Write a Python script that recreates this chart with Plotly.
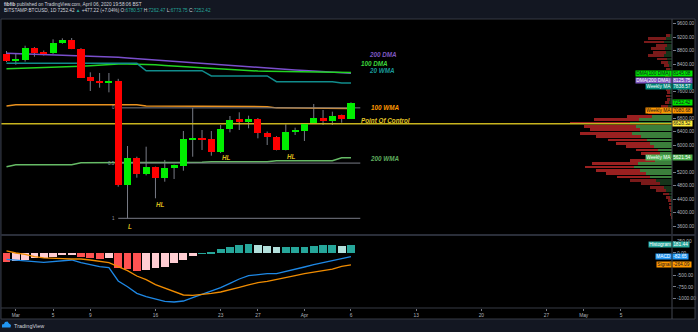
import plotly.graph_objects as go
import pandas as pd

W, H = 698, 332
def fx(x): return x / W
def fy(y): return 1 - y / H

FONT = "Liberation Sans, Arial, sans-serif"

# ---------------- data ----------------
dates = pd.date_range("2020-02-29", "2020-04-06", freq="D")
date_str = [d.strftime("%Y-%m-%d") for d in dates]

opens  = [8687, 8489, 8510, 8883, 8740, 8717, 9031, 9120, 8853, 8010, 7905, 7860, 7910, 4815, 5615, 5141, 5348, 5033, 5329, 5388,
          6169, 6198, 6169, 5784, 6465, 6761, 6681, 6761, 6365, 6247, 5852, 6394, 6414, 6643, 6791, 6711, 6879, 6780.57]
highs  = [8785, 8726, 8942, 8900, 8800, 9132, 9161, 9170, 8870, 8154, 8133, 8133, 7960, 5970, 5653, 5950, 5360, 5556, 5420, 6415,
          7100, 6444, 6415, 6593, 6859, 6969, 6868, 6800, 6400, 6260, 6613, 6513, 6640, 7215, 7037, 6987, 6900, 7262.47]
lows   = [8459, 8379, 8470, 8616, 8650, 8700, 9000, 8840, 7990, 7600, 7698, 7561, 4764, 3828, 5031, 5100, 4421, 4913, 4993, 5238,
          5653, 5852, 5683, 5760, 6376, 6444, 6495, 6198, 6000, 5840, 5840, 6296, 6119, 6630, 6593, 6593, 6661, 6773.75]
closes = [8489, 8510, 8883, 8717, 8717, 9031, 9120, 8853, 7994, 7905, 7846, 7905, 4815, 5606, 5141, 5339, 5013, 5309, 5407, 6169,
          6198, 6169, 5784, 6465, 6741, 6681, 6760, 6365, 6228, 5852, 6394, 6414, 6622, 6791, 6711, 6859, 6775, 7252.42]

dma200 = [8717, 8708, 8699, 8690, 8681, 8672, 8663, 8654, 8645, 8636, 8626, 8616, 8598, 8578, 8558, 8538, 8518, 8498, 8478, 8458,
          8438, 8418, 8398, 8378, 8352, 8326, 8310, 8293, 8276, 8259, 8242, 8225, 8208, 8191, 8174, 8158, 8141, 8125.75]
dma100 = [8261, 8268, 8276, 8284, 8292, 8300, 8310, 8320, 8335, 8350, 8370, 8390, 8400, 8400, 8398, 8390, 8375, 8358, 8340, 8322,
          8304, 8286, 8268, 8250, 8230, 8210, 8200, 8193, 8186, 8180, 8174, 8168, 8163, 8158, 8154, 8150, 8147, 8145.08]
wma20  = [8421, 8421, 8421, 8421, 8421, 8421, 8421, 8421, 8421, 8421, 8421, 8421, 8421, 8421, 8421, 8201, 8201, 8201, 8201, 8201,
          8201, 8201, 8045, 8045, 8045, 8045, 8045, 8045, 8045, 7876, 7876, 7876, 7876, 7876, 7876, 7876, 7838.57, 7838.57]
wma100 = [7156, 7194, 7194, 7194, 7194, 7194, 7194, 7194, 7194, 7194, 7194, 7194, 7194, 7194, 7194, 7156, 7156, 7156, 7156, 7156,
          7156, 7156, 7135, 7135, 7135, 7135, 7135, 7135, 7135, 7100, 7100, 7100, 7100, 7100, 7100, 7100, 7080.68, 7080.68]
wma200 = [5357, 5416, 5416, 5416, 5416, 5416, 5416, 5416, 5475, 5475, 5475, 5475, 5475, 5475, 5475, 5490, 5490, 5490, 5490, 5490,
          5490, 5490, 5505, 5505, 5505, 5505, 5505, 5505, 5505, 5535, 5535, 5535, 5535, 5535, 5535, 5535, 5621.54, 5621.54]

poc = 6628.52
fib_top, fib_bottom = 7100, 3828
fib_ratios = [0, 0.5, 1]
fib_labels = ["0", "0.5", "1"]
fib_start, fib_end = "2020-03-12", "2020-04-07"

macd   = [-140, -162, -177, -192, -206, -184, -162, -155, -214, -265, -302, -324, -619, -745, -892, -966, -1018, -1069, -1084, -1062,
          -988, -914, -855, -767, -671, -575, -501, -472, -457, -457, -413, -361, -310, -258, -214, -177, -133, -82.65]
signal = [48, 0, -30, -82, -110, -110, -125, -133, -133, -155, -184, -214, -302, -391, -509, -590, -701, -781, -863, -929,
          -936, -919, -892, -863, -818, -759, -707, -656, -627, -590, -553, -503, -457, -428, -391, -357, -295, -264.09]
hist   = [-188, -162, -147, -110, -96, -74, -37, -22, -81, -110, -118, -110, -317, -354, -383, -376, -317, -288, -221, -133,
          -52, 5, 37, 96, 147, 184, 206, 184, 170, 133, 140, 142, 147, 170, 177, 180, 162, 181.44]

vp_price = [3850, 3950, 4050, 4150, 4250, 4350, 4450, 4550, 4650, 4750, 4850, 4950, 5050, 5150, 5250, 5350, 5450, 5550, 5650, 5750,
            5850, 5950, 6050, 6150, 6250, 6350, 6450, 6550, 6650, 6750, 6850, 6950, 7050, 7150, 7250, 7350, 7450, 7550, 7650, 7750,
            7850, 7950, 8050, 8150, 8250, 8350, 8450, 8550, 8650, 8750, 8850, 8950, 9050, 9150, 9250]
vp_up    = [0, 1, 1, 1, 1, 1, 2, 3, 6, 8, 12, 16, 22, 26, 32, 38, 34, 17, 10, 12,
            14, 18, 22, 25, 31, 40, 32, 36, 42, 33, 20, 10, 5, 4, 3, 2, 2, 2, 2, 3,
            5, 4, 3, 2, 2, 3, 4, 5, 8, 6, 7, 5, 8, 6, 2]
vp_down  = [1, 1, 1, 2, 2, 3, 4, 6, 10, 14, 19, 26, 33, 40, 44, 49, 46, 25, 16, 19,
            22, 28, 34, 39, 45, 52, 50, 52, 60, 45, 25, 14, 9, 7, 4, 3, 4, 3, 4, 6,
            8, 6, 4, 3, 4, 5, 7, 10, 16, 13, 14, 11, 20, 18, 4]
va_low, va_high = 5050, 6950

price_ticks = [3600, 4000, 4400, 4800, 5200, 6000, 6400, 6800, 7600, 8400, 8800, 9200, 9600]
macd_ticks = [250, 0, -500, -750, -1000]
x_tickvals = ["2020-03-01", "2020-03-05", "2020-03-09", "2020-03-16", "2020-03-23", "2020-03-27", "2020-04-01",
              "2020-04-06", "2020-04-13", "2020-04-20", "2020-04-27", "2020-05-01", "2020-05-05"]
x_ticktext = ["Mar", "5", "9", "16", "23", "27", "Apr", "6", "13", "20", "27", "May", "5"]

# ---------------- figure ----------------
X0, X1 = "2020-02-28 09:50", "2020-05-10 11:30"
XD = [fx(1), fx(672)]
YD_MAIN = [fy(235), fy(19)]
YD_MACD = [fy(308), fy(235.5)]
PRICE_RANGE = [3333.3, 9733.3]
MACD_RANGE = [-1217, 387]
DAY_MS = 86400000

fig = go.Figure()

# wicks (under bodies)
wx, wy = [], []
for d, lo, hi in zip(date_str, lows, highs):
    wx += [d, d, None]
    wy += [lo, hi, None]
fig.add_trace(go.Scatter(x=wx, y=wy, mode="lines", line=dict(color="#787b86", width=1),
                         xaxis="x", yaxis="y", hoverinfo="skip"))

# moving averages
for vals, col in [(dma200, "#7a4fcc"), (dma100, "#22d422"), (wma20, "#118c8c"),
                  (wma100, "#ea921f"), (wma200, "#66bb66")]:
    fig.add_trace(go.Scatter(x=date_str, y=vals, mode="lines", line=dict(color=col, width=1.5),
                             xaxis="x", yaxis="y", hoverinfo="skip"))

# fib retracement
for r in fib_ratios:
    lvl = fib_top - r * (fib_top - fib_bottom)
    fig.add_trace(go.Scatter(x=[fib_start, fib_end], y=[lvl, lvl], mode="lines",
                             line=dict(color="#787b86", width=1), xaxis="x", yaxis="y", hoverinfo="skip"))

# volume profile (overlay axis x3, anchored at right edge)
vp_total = [u + dn for u, dn in zip(vp_up, vp_down)]
down_cols = ["#9a2020" if va_low <= p <= va_high else "#7a1a1a" for p in vp_price]
up_cols = ["#3b7f3b" if va_low <= p <= va_high else "#15341a" for p in vp_price]
fig.add_trace(go.Bar(y=vp_price, x=vp_total, orientation="h", width=84, marker=dict(color=down_cols, line_width=0),
                     xaxis="x3", yaxis="y", hoverinfo="skip"))
fig.add_trace(go.Bar(y=vp_price, x=vp_up, orientation="h", width=84, marker=dict(color=up_cols, line_width=0),
                     xaxis="x3", yaxis="y", hoverinfo="skip"))
fig.add_trace(go.Scatter(x=[0, 700], y=[poc, poc], mode="lines", line=dict(color="#c8b41e", width=1.5),
                         xaxis="x3", yaxis="y", hoverinfo="skip"))

# candle bodies (overlay axis x4, drawn above lines)
body_base = [min(o, c) for o, c in zip(opens, closes)]
body_h = [max(abs(c - o), 40) for o, c in zip(opens, closes)]
body_col = ["#00f000" if c >= o else "#ff0000" for o, c in zip(opens, closes)]
fig.add_trace(go.Bar(x=date_str, y=body_h, base=body_base, width=0.76 * DAY_MS,
                     marker=dict(color=body_col, line_width=0), xaxis="x4", yaxis="y", hoverinfo="skip"))

# MACD pane
hcols = []
for i, v in enumerate(hist):
    prev = hist[i - 1] if i > 0 else None
    rising = prev is not None and v > prev
    if v >= 0:
        hcols.append("#26a69a" if rising else "#b2dfdb")
    else:
        hcols.append("#ffcdd2" if rising else "#ff5252")
fig.add_trace(go.Bar(x=date_str, y=hist, width=0.84 * DAY_MS, marker=dict(color=hcols, line_width=0),
                     xaxis="x2", yaxis="y2", hoverinfo="skip"))
fig.add_trace(go.Scatter(x=date_str, y=macd, mode="lines", line=dict(color="#1e88e5", width=1.3),
                         xaxis="x2", yaxis="y2", hoverinfo="skip"))
fig.add_trace(go.Scatter(x=date_str, y=signal, mode="lines", line=dict(color="#f08c00", width=1.3),
                         xaxis="x2", yaxis="y2", hoverinfo="skip"))

axis_font = dict(family=FONT, size=4.8, color="#b2b5be")
fig.update_layout(
    width=W, height=H, margin=dict(l=0, r=0, t=0, b=0),
    paper_bgcolor="#131722", plot_bgcolor="#000000",
    showlegend=False, barmode="overlay", bargap=0,
    xaxis=dict(domain=XD, range=[X0, X1], type="date", anchor="y", showticklabels=False,
               showgrid=False, zeroline=False, showline=False, ticks=""),
    xaxis2=dict(domain=XD, range=[X0, X1], type="date", anchor="y2", tickvals=x_tickvals, ticktext=x_ticktext,
                ticks="outside", ticklen=2, tickcolor="#787b86", tickfont=axis_font,
                showgrid=False, zeroline=False, showline=False),
    xaxis3=dict(overlaying="x", anchor="y", range=[671, 0], visible=False),
    xaxis4=dict(overlaying="x", anchor="y", type="date", range=[X0, X1], visible=False),
    yaxis=dict(domain=YD_MAIN, range=PRICE_RANGE, side="right", anchor="x", tickvals=price_ticks,
               ticktext=["%.2f" % v for v in price_ticks], ticks="outside", ticklen=3, tickcolor="#787b86",
               tickfont=axis_font, showgrid=False, zeroline=False, showline=False),
    yaxis2=dict(domain=YD_MACD, range=MACD_RANGE, side="right", anchor="x2", tickvals=macd_ticks,
                ticktext=["%.2f" % v for v in macd_ticks], ticks="outside", ticklen=3, tickcolor="#787b86",
                tickfont=axis_font, showgrid=False, zeroline=False, showline=False),
)

shapes = [
    dict(type="rect", xref="paper", yref="paper", x0=fx(1), x1=fx(695), y0=fy(319), y1=fy(19),
         fillcolor="#000000", line=dict(width=0), layer="below"),
    dict(type="rect", xref="paper", yref="paper", x0=fx(1), x1=fx(695), y0=fy(319), y1=fy(19),
         fillcolor="rgba(0,0,0,0)", line=dict(color="#363a45", width=1), layer="above"),
    dict(type="line", xref="paper", yref="paper", x0=fx(672), x1=fx(672), y0=fy(319), y1=fy(19),
         line=dict(color="#434651", width=1), layer="above"),
    dict(type="line", xref="paper", yref="paper", x0=fx(1), x1=fx(695), y0=fy(235), y1=fy(235),
         line=dict(color="#2a2e39", width=2), layer="above"),
    dict(type="line", xref="paper", yref="paper", x0=fx(1), x1=fx(695), y0=fy(308), y1=fy(308),
         line=dict(color="#363a45", width=1), layer="above"),
]
# TradingView cloud logo
pts = [(2, 327.5), (10.5, 327.5), (11, 325), (9, 323.5), (7.5, 321.5), (5, 322), (4, 324), (2, 324.5)]
path = "M " + " L ".join("%.5f,%.5f" % (fx(a), fy(b)) for a, b in pts) + " Z"
shapes.append(dict(type="path", xref="paper", yref="paper", path=path, fillcolor="#2196f3",
                   line=dict(width=0), layer="above"))
fig.update_layout(shapes=shapes)

ann = []
def txt(x, y, text, size, color, xref="paper", yref="paper", xanchor="left", yanchor="middle", **kw):
    ann.append(dict(x=x, y=y, xref=xref, yref=yref, text=text, showarrow=False, xanchor=xanchor,
                    yanchor=yanchor, font=dict(family=FONT, size=size, color=color), **kw))

TEAL = "#26a69a"
txt(fx(2), fy(4.5), "<b>fibfib</b> published on TradingView.com, April 06, 2020 19:58:06 BST", 4.7, "#d1d4dc")
txt(fx(2), fy(10.8),
    "BITSTAMP:BTCUSD, 1D 7252.42 <span style='color:%s'>▲</span> +477.22 (+7.04%%) "
    "O:<span style='color:%s'>6780.57</span> H:<span style='color:%s'>7262.47</span> "
    "L:<span style='color:%s'>6773.75</span> C:<span style='color:%s'>7252.42</span>" % ((TEAL,) * 5),
    4.7, "#d1d4dc")
txt(fx(12), fy(325.5), "TradingView", 5.5, "#d1d4dc")

# chart labels
lab = [("<i><b>200 DMA</b></i>", "2020-04-09 10:30", 8667, "#7e57c2"),
       ("<i><b>100 DMA</b></i>", "2020-04-08 12:40", 8421, "#3cd63c"),
       ("<i><b>20 WMA</b></i>", "2020-04-09 09:00", 8201, "#1a9a9a"),
       ("<i><b>100 WMA</b></i>", "2020-04-09 14:30", 7105, "#ff9800"),
       ("<i><b>Point Of Control</b></i>", "2020-04-09 16:30", 6720, "#e5c828"),
       ("<i><b>200 WMA</b></i>", "2020-04-09 14:30", 5594, "#5fae5f"),
       ("<i><b>HL</b></i>", "2020-03-23 14:00", 5624, "#d8b81a"),
       ("<i><b>HL</b></i>", "2020-03-30 13:30", 5653, "#d8b81a"),
       ("<i><b>HL</b></i>", "2020-03-16 12:00", 4243, "#d8b81a"),
       ("<i><b>L</b></i>", "2020-03-13 06:00", 3580, "#d8b81a")]
for t, d, p, c in lab:
    txt(d, p, t, 6.3, c, xref="x", yref="y", xanchor="center")

for r, lbl in zip(fib_ratios, fib_labels):
    lvl = fib_top - r * (fib_top - fib_bottom)
    txt(fib_start, lvl, lbl, 4.5, "#9598a1", xref="x", yref="y", xanchor="right", xshift=-1)

# price tags at the right axis
def tag(left, right, yval, yref, bg, fg, yshift=0):
    if left:
        ann.append(dict(x=fx(672), xref="paper", y=yval, yref=yref, yshift=yshift, text=left,
                        xanchor="right", yanchor="middle", showarrow=False, bgcolor=bg, borderpad=0.2,
                        font=dict(family=FONT, size=4.8, color=fg)))
    ann.append(dict(x=fx(672), xref="paper", y=yval, yref=yref, yshift=yshift, text=right + " ",
                    xanchor="left", yanchor="middle", showarrow=False, bgcolor=bg, borderpad=0.2,
                    font=dict(family=FONT, size=4.8, color=fg)))

tag("DMA(100 DMA)", "8145.08", 8145.08, "y", "#00e400", "#131722", -1.2)
tag("DMA(200 DMA)", "8125.75", 8125.75, "y", "#7e57c2", "#ffffff", -7.2)
tag("Weekly MA", "7838.57", 7838.57, "y", "#00897b", "#ffffff", -3.9)
tag(None, "7252.42", 7252.42, "y", "#00e400", "#131722")
tag("Weekly MA", "7080.68", 7080.68, "y", "#ff9800", "#131722", -1.5)
tag(None, "6628.52", poc, "y", "#ffeb3b", "#131722")
tag("Weekly MA", "5621.54", 5621.54, "y", "#4caf50", "#ffffff")
tag("Histogram", "181.44", 181.44, "y2", "#26a69a", "#ffffff")
tag("MACD", "-82.65", -82.65, "y2", "#2196f3", "#ffffff")
tag("Signal", "-264.09", -264.09, "y2", "#ff9800", "#131722")

fig.update_layout(annotations=ann)
fig.write_html("out.html")
